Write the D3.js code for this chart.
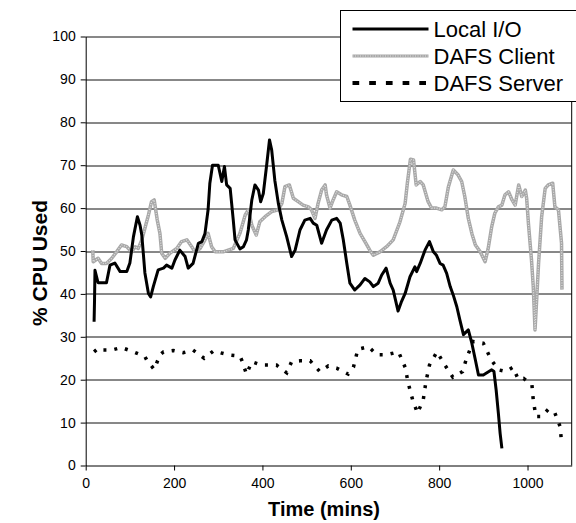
<!DOCTYPE html>
<html>
<head>
<meta charset="utf-8">
<script src="https://cdn.jsdelivr.net/npm/d3@7"></script>
<style>
  body { margin: 0; background: #fff; }
  svg { display: block; font-family: Arial, "Liberation Sans", sans-serif; }
  .axis text { font-size: 14px; fill: #000; }
  .axis path, .axis line { stroke: #000; }
</style>
</head>
<body>
<div id="chart"></div>
<script>
// series: [time (mins), % CPU]
const localIO = [[19,33.5],[20,38.6],[21,45.5],[28,42.6],[47,42.6],[55,46.7],[66,47.2],[78,45.2],[93,45.2],[100,47.2],
  [108,53.3],[117,58],[123,56],[127,53.7],[134,44.9],[142,40.1],[147,39.3],[153,41.7],[164,45.6],[176,46],[183,46.7],
  [195,46],[202,47.9],[213,50.2],[225,48.7],[232,46],[243,47.1],[255,51.8],[263,52.2],[270,54.1],[277,59.6],[281,65.8],
  [287,70],[300,70],[308,66.2],[314,69.7],[319,65.4],[327,64.6],[334,57.2],[338,52.6],[349,50.5],[357,51],[364,52.6],
  [368,54.9],[376,61.9],[383,65.4],[391,64.2],[396,61.5],[402,63.4],[410,70.4],[416,75.9],[421,73.5],[428,66.5],
  [436,61.1],[444,57.2],[455,53.3],[466,48.7],[474,50.2],[485,54.9],[496,57.2],[508,57.6],[515,56.5],[523,56],
  [534,51.8],[545,54.9],[557,57.2],[568,57.6],[576,56.5],[583,52.6],[591,47.1],[598,42.5],[609,40.9],[621,42.1],
  [632,43.6],[643,42.8],[651,41.7],[662,42.5],[670,44.4],[680,46],[689,42.5],[696,40.9],[707,36],[714,38],[723,40.1],
  [734,44],[745,46.3],[749,45.2],[757,47.1],[768,50.2],[778,52.2],[787,49.8],[794,49],[802,47.1],[809,46.7],[817,44.8],
  [825,41.7],[832,39.7],[840,37],[847,33.9],[855,30.5],[866,31.6],[874,28.5],[882,24.6],[889,21.1],[900,21.1],
  [908,21.6],[919,22.3],[924,21.9],[929,17.6],[934,12.2],[938,7.5],[942,4]];

const dafsClient = [[16,50.2],[17,47.5],[28,48.3],[36,47.1],[47,47.1],[59,48.3],[70,49.8],[81,51.4],[93,51],[104,49.8],
  [112,51],[119,50.6],[127,52.6],[134,55.3],[142,58.4],[149,61.5],[155,61.9],[162,57.2],[168,54.1],[172,49.5],[180,48.3],
  [191,49.5],[206,50.6],[217,52.2],[229,52.6],[240,51],[247,49.8],[259,50.6],[270,52.6],[277,54.1],[285,51],[293,49.8],
  [311,49.8],[334,50.6],[349,54.1],[361,58.4],[368,59.6],[376,56],[386,53.7],[394,56.8],[406,58],[421,59.2],[436,59.6],
  [444,61.1],[451,65],[461,65.4],[470,62.3],[481,61.5],[492,60.7],[504,60.3],[511,59.6],[519,57.6],[526,61.1],[534,64.2],
  [542,65.4],[545,63.1],[553,60],[560,61.9],[568,63.8],[579,63.1],[591,62.7],[598,60.7],[609,57.2],[621,54.1],[632,52.2],
  [643,50.2],[651,49],[666,49.8],[681,51],[696,52.6],[711,56.7],[723,61.1],[728,65.8],[735,71.4],[742,71.2],[748,65.4],
  [757,66.2],[764,65.4],[775,61.5],[783,60],[794,60],[806,59.6],[813,60.3],[821,65],[832,68.9],[843,67.7],[851,66.2],
  [858,62.7],[866,57.6],[874,54.1],[882,51.4],[893,49.8],[904,47.5],[911,50.6],[919,55.7],[926,58.8],[934,60.3],
  [942,60.7],[949,63.1],[957,63.8],[965,61.9],[972,60.7],[980,65.4],[987,62.7],[995,64.2],[998,62.3],[1002,56.5],
  [1009,47.9],[1013,41.7],[1017,31.6],[1021,39.3],[1025,47.1],[1032,58],[1040,64.6],[1047,65.4],[1057,65.8],
  [1062,60.3],[1070,59.6],[1077,51.8],[1078,41]];

const dafsServer = [[19,26.5],[28,27.3],[36,26.9],[59,26.9],[81,27.5],[108,26.5],[134,25.4],[138,24.6],[155,22.4],
  [168,25.8],[176,26.5],[198,26.8],[221,26.3],[243,26.9],[268,25],[289,26.7],[323,25.8],[349,25.5],[353,24.6],[364,21.3],
  [376,24.2],[398,23.4],[432,23.4],[455,21.6],[466,24.2],[485,24.4],[508,24.4],[530,21.9],[549,23.2],[568,22.7],
  [594,21.3],[606,22.9],[616,27.1],[640,27.7],[659,25.8],[681,25.8],[708,26.5],[723,22.9],[730,19.2],[740,15.3],
  [751,12.2],[764,15.3],[770,19.5],[778,23.4],[795,26.5],[813,23.4],[831,20.6],[853,21.9],[862,25],[877,28.9],
  [900,28.5],[917,24.8],[934,22.3],[951,21.9],[967,22.9],[979,20.1],[991,20.3],[1010,18.8],[1013,15.3],[1019,11.4],
  [1032,11.4],[1047,13.1],[1062,12.2],[1074,9],[1077,5.3]];

const seriesNames = ['Local I/O', 'DAFS Client', 'DAFS Server'];
const xTicks = [0, 200, 400, 600, 800, 1000];
const yTicks = [0, 10, 20, 30, 40, 50, 60, 70, 80, 90, 100];

const config = {
  containerWidth: 576,
  containerHeight: 523,
  margin: {top: 36.5, right: 4.3, bottom: 57.5, left: 85.7}
};
const width = config.containerWidth - config.margin.left - config.margin.right;
const height = config.containerHeight - config.margin.top - config.margin.bottom;

const svg = d3.select('#chart').append('svg')
    .attr('width', config.containerWidth)
    .attr('height', config.containerHeight);

const chart = svg.append('g')
    .attr('transform', `translate(${config.margin.left},${config.margin.top})`);

const xScale = d3.scaleLinear().domain([0, 1100]).range([0, width]);
const yScale = d3.scaleLinear().domain([0, 100]).range([height, 0]);

// horizontal gridlines
chart.append('g')
  .selectAll('line')
  .data(yTicks.filter(d => d > 0))
  .join('line')
    .attr('x1', 0)
    .attr('x2', width)
    .attr('y1', d => Math.round(yScale(d)) + 0.5)
    .attr('y2', d => Math.round(yScale(d)) + 0.5)
    .attr('stroke', '#111')
    .attr('stroke-width', 1);

// right border of the plot area
chart.append('line')
    .attr('x1', width).attr('x2', width)
    .attr('y1', 0).attr('y2', height)
    .attr('stroke', '#000');

const xAxis = d3.axisBottom(xScale).tickValues(xTicks).tickFormat(d3.format('d'))
    .tickSize(5).tickSizeOuter(0).tickPadding(8);
const yAxis = d3.axisLeft(yScale).tickValues(yTicks).tickSize(5).tickSizeOuter(0).tickPadding(5);

chart.append('g')
    .attr('class', 'axis x-axis')
    .attr('transform', `translate(0,${height})`)
    .call(xAxis);

chart.append('g')
    .attr('class', 'axis y-axis')
    .call(yAxis);

const line = d3.line()
    .x(d => xScale(d[0]))
    .y(d => yScale(d[1]));

// DAFS Client: textured grey
chart.append('path')
    .datum(dafsClient)
    .attr('d', line)
    .attr('fill', 'none')
    .attr('stroke', '#a8a8a8')
    .attr('stroke-width', 3.5)
    .attr('stroke-linejoin', 'round');
chart.append('path')
    .datum(dafsClient)
    .attr('d', line)
    .attr('fill', 'none')
    .attr('stroke', '#e0e0e0')
    .attr('stroke-width', 1.2)
    .attr('stroke-dasharray', '1,1.5');

// Local I/O: solid black
chart.append('path')
    .datum(localIO)
    .attr('d', line)
    .attr('fill', 'none')
    .attr('stroke', '#000')
    .attr('stroke-width', 3)
    .attr('stroke-linejoin', 'round');

// DAFS Server: square dots
chart.append('path')
    .datum(dafsServer)
    .attr('d', line)
    .attr('fill', 'none')
    .attr('stroke', '#000')
    .attr('stroke-width', 3.5)
    .attr('stroke-dasharray', '3,8');

// axis titles
svg.append('text')
    .attr('x', 324)
    .attr('y', 516)
    .attr('text-anchor', 'middle')
    .attr('font-size', 20)
    .attr('font-weight', 'bold')
    .text('Time (mins)');

svg.append('text')
    .attr('transform', 'translate(47,263) rotate(-90)')
    .attr('text-anchor', 'middle')
    .attr('font-size', 21)
    .attr('font-weight', 'bold')
    .text('% CPU Used');

// legend
const legend = svg.append('g').attr('transform', 'translate(340.5,10.5)');
legend.append('rect')
    .attr('width', 300)
    .attr('height', 91)
    .attr('fill', '#fff')
    .attr('stroke', '#000');

const rowY = [18.5, 45.5, 72.5];
const rows = legend.selectAll('.legend-row')
  .data(seriesNames)
  .join('g')
    .attr('class', 'legend-row')
    .attr('transform', (d, i) => `translate(0,${rowY[i]})`);

rows.append('line')
    .attr('x1', 12).attr('x2', 88)
    .attr('stroke', (d, i) => i === 1 ? '#a8a8a8' : '#000')
    .attr('stroke-width', (d, i) => i === 2 ? 4 : 3)
    .attr('stroke-dasharray', (d, i) => i === 2 ? '6.7,10' : null);

rows.filter((d, i) => i === 1).append('line')
    .attr('x1', 12).attr('x2', 88)
    .attr('stroke', '#e0e0e0')
    .attr('stroke-width', 1.2)
    .attr('stroke-dasharray', '1,1.5');

rows.append('text')
    .attr('class', 'label')
    .attr('x', 93)
    .attr('dy', '0.36em')
    .attr('font-size', 22)
    .text(d => d);
</script>
</body>
</html>
